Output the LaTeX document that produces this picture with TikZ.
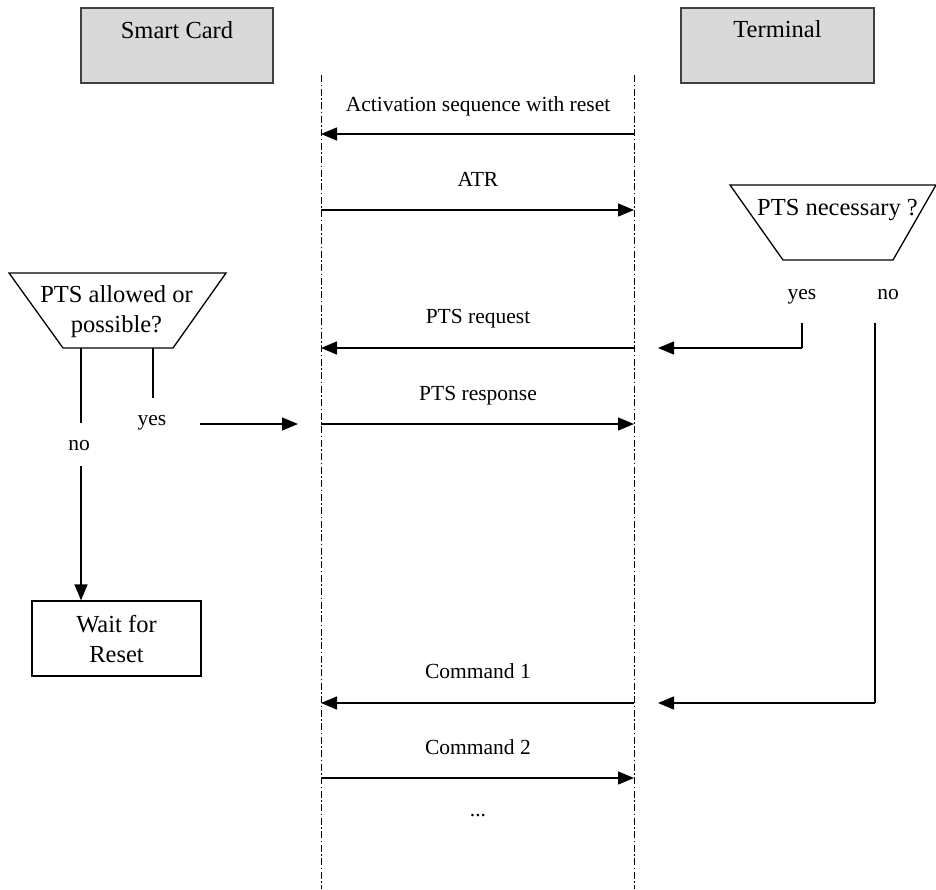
\documentclass[tikz,border=0pt]{standalone}
\usepackage{fontspec}
\setmainfont{Liberation Serif}
\usetikzlibrary{arrows.meta}
\tikzset{
  hdr/.style={draw=black!75, line width=1.3pt, fill=black!15},
  life/.style={line width=0.9pt, dash pattern=on 7pt off 2.5pt on 1.5pt off 2.5pt},
  msg/.style={line width=1.4pt, -{Triangle[length=16pt,width=13pt]}},
  plain/.style={line width=1.3pt},
  lbl/.style={inner sep=0pt, anchor=base, font=\fontsize{21.5}{24}\selectfont},
  big/.style={inner sep=0pt, anchor=base, font=\fontsize{24.5}{28}\selectfont},
}
\begin{document}
\begin{tikzpicture}[x=1pt,y=-1pt]
\useasboundingbox (0,0) rectangle (936,889);
% header boxes
\draw[hdr] (81,8) rectangle (273,83);
\node[big] (sc) at (177,38) {Smart Card};
\draw[hdr] (681,8) rectangle (874,83);
\node[big] (term) at (777.5,37) {Terminal};
% lifelines
\coordinate (L0) at (321,75); \coordinate (L1) at (321,889);
\coordinate (R0) at (634,75); \coordinate (R1) at (634,889);
\draw[life] (L0) -- (L1);
\draw[life] (R0) -- (R1);
% message coordinates
\foreach \n/\y in {a/134,b/210,c/348,d/424,e/703,f/778}{
  \coordinate (L\n) at (321,\y);
  \coordinate (R\n) at (634,\y);
}
\draw[msg] (Ra) -- (La);
\node[lbl] (tact) at (478,111) {Activation sequence with reset};
\draw[msg] (Lb) -- (Rb);
\node[lbl] (tatr) at (478,186) {ATR};
\draw[msg] (Rc) -- (Lc);
\node[lbl] (treq) at (478,323) {PTS request};
\draw[msg] (Ld) -- (Rd);
\node[lbl] (tresp) at (478,400) {PTS response};
\draw[msg] (Re) -- (Le);
\node[lbl] (tc1) at (478,678) {Command 1};
\draw[msg] (Lf) -- (Rf);
\node[lbl] (tc2) at (478,754) {Command 2};
\node[lbl] (tdots) at (478,816) {...};
% PTS necessary trapezoid
\coordinate (n1) at (730,185); \coordinate (n2) at (936,185);
\coordinate (n3) at (893,260); \coordinate (n4) at (783,260);
\draw[plain] (n1) -- (n2) -- (n3) -- (n4) -- cycle;
\node[big] (tnec) at (837.5,215) {PTS necessary ?};
\node[lbl] (nyes) at (802,299) {yes};
\node[lbl] (nno) at (888,299) {no};
\coordinate (ny0) at (802,323); \coordinate (ny1) at (802,348);
\coordinate (nyT) at (658,348);
\draw[plain] (ny0) -- (ny1);
\draw[msg] (ny1) -- (nyT);
\coordinate (nn0) at (875,323); \coordinate (nn1) at (875,703);
\coordinate (nnT) at (658,703);
\draw[plain] (nn0) -- (nn1);
\draw[msg] (nn1) -- (nnT);
% PTS allowed trapezoid
\coordinate (p1) at (9,273); \coordinate (p2) at (226,273);
\coordinate (p3) at (173,348); \coordinate (p4) at (63,348);
\draw[plain] (p1) -- (p2) -- (p3) -- (p4) -- cycle;
\node[big] (tall1) at (116.5,302) {PTS allowed or};
\node[big] (tall2) at (116.5,332) {possible?};
\coordinate (pn0) at (81,348); \coordinate (pn1) at (81,423);
\coordinate (pn2) at (81,466);
\draw[plain] (pn0) -- (pn1);
\node[lbl] (pno) at (79,450) {no};
\coordinate (py0) at (153,348); \coordinate (py1) at (153,398);
\draw[plain] (py0) -- (py1);
\node[lbl] (pyes) at (152,425) {yes};
\coordinate (pyA) at (200,424); \coordinate (pyB) at (298,424);
\draw[msg] (pyA) -- (pyB);
% wait box
\node[draw, line width=1.3pt, minimum width=169pt, minimum height=75pt, inner sep=0pt] (wait) at (116.5,638.5) {};
\node[big] (tw1) at (116.5,632) {Wait for};
\node[big] (tw2) at (116.5,662) {Reset};
\draw[msg] (pn2) -- (wait.north -| pn2);
\end{tikzpicture}
\end{document}
